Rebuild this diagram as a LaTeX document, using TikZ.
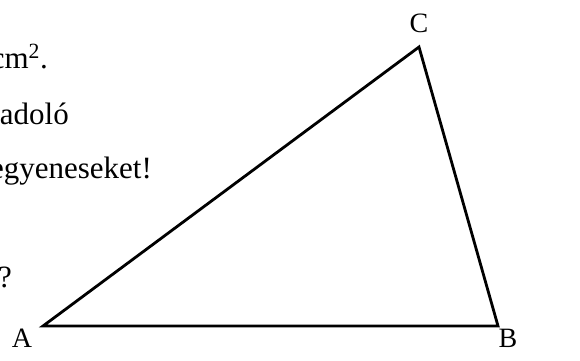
\documentclass[tikz,border=0pt]{standalone}
\usepackage{fontspec}
\setmainfont{Liberation Serif}

\begin{document}
\begin{tikzpicture}[
    x=1pt, y=-1pt,
    every node/.style={font=\fontsize{31}{36}\selectfont, inner sep=0pt},
    vlabel/.style={anchor=base, font=\fontsize{28}{33}\selectfont},
    cuttext/.style={anchor=base east},
    side/.style={line width=2.8pt, line join=miter}
]
\clip (0,0) rectangle (580,360);
% text cut off at the left margin
\node[cuttext] (line1) at (48,68) {cm\textsuperscript{2}.};
\node[cuttext] (line2) at (69,124) {adoló};
\node[cuttext] (line3) at (152,178) {egyeneseket!};
\node[cuttext] (line4) at (12,287) {?};
% triangle
\coordinate (A) at (43,326);
\coordinate (B) at (498,326);
\coordinate (C) at (419,47);
\draw[side] (A) -- (B) -- (C) -- cycle;
\node[vlabel] (labA) at (22,347) {A};
\node[vlabel] (labB) at (508,347) {B};
\node[vlabel] (labC) at (419,32) {C};
\end{tikzpicture}
\end{document}
